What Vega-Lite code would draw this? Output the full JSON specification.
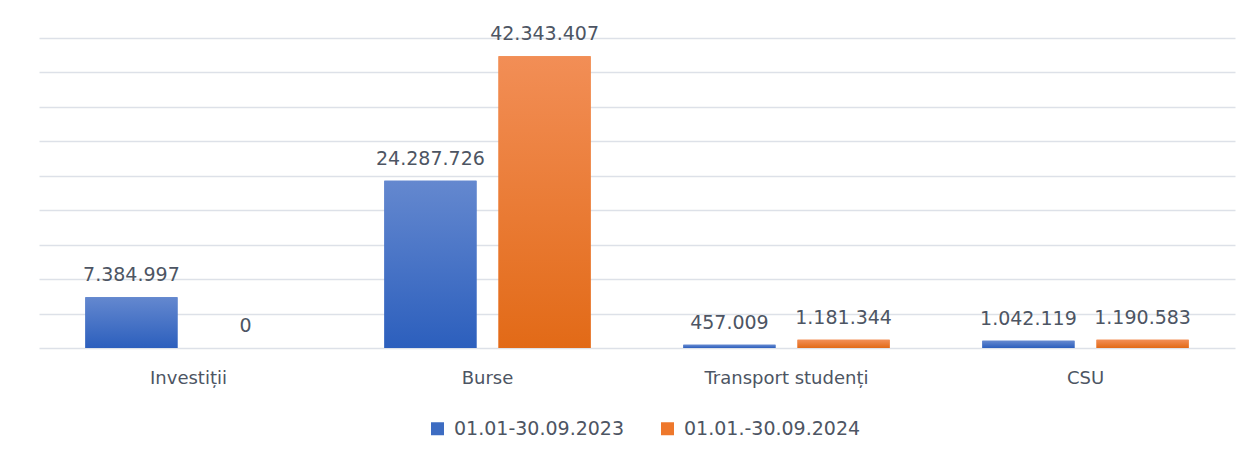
{
  "$schema": "https://vega.github.io/schema/vega-lite/v6.json",
  "autosize": {"type": "none"},
  "width": 1196,
  "height": 310,
  "padding": {"left": 39, "top": 38, "right": 18, "bottom": 109},
  "background": "white",
  "config": {
    "locale": {"number": {"decimal": ",", "thousands": ".", "grouping": [3], "currency": ["", ""]}},
    "view": {"stroke": null},
    "font": "DejaVu Sans"
  },
  "data": {
    "values": [
      {"cat": "Investiții", "per": "01.01-30.09.2023", "val": 7384997},
      {"cat": "Investiții", "per": "01.01.-30.09.2024", "val": 0},
      {"cat": "Burse", "per": "01.01-30.09.2023", "val": 24287726},
      {"cat": "Burse", "per": "01.01.-30.09.2024", "val": 42343407},
      {"cat": "Transport studenți", "per": "01.01-30.09.2023", "val": 457009},
      {"cat": "Transport studenți", "per": "01.01.-30.09.2024", "val": 1181344},
      {"cat": "CSU", "per": "01.01-30.09.2023", "val": 1042119},
      {"cat": "CSU", "per": "01.01.-30.09.2024", "val": 1190583}
    ]
  },
  "encoding": {
    "x": {
      "field": "cat", "type": "nominal", "sort": null,
      "scale": {"paddingInner": 0.31, "paddingOuter": 0.155},
      "axis": {"title": null, "ticks": false, "labelAngle": 0, "labelFontSize": 18, "labelColor": "#4d5563", "labelPadding": 21, "domainColor": "#dde1e8", "domainWidth": 1.5, "labelFont": "DejaVu Sans"}
    },
    "xOffset": {"field": "per", "type": "nominal", "scale": {"paddingInner": 0.193, "paddingOuter": 0}},
    "y": {
      "field": "val", "type": "quantitative",
      "scale": {"domain": [0, 45000000], "nice": false},
      "axis": {"title": null, "labels": false, "ticks": false, "domain": false, "values": [5000000, 10000000, 15000000, 20000000, 25000000, 30000000, 35000000, 40000000, 45000000], "gridColor": "#dde1e8", "gridWidth": 1.5}
    }
  },
  "layer": [
    {
      "mark": {"type": "bar"},
      "encoding": {
        "color": {
          "field": "per", "type": "nominal",
          "scale": {"domain": ["01.01-30.09.2023", "01.01.-30.09.2024"], "range": ["#3d6cc2", "#ee782c"]},
          "legend": {"title": null, "orient": "none", "legendX": 389, "legendY": 381, "direction": "horizontal", "symbolType": "square", "symbolSize": 169, "labelFontSize": 19, "labelColor": "#4d5563", "labelFont": "DejaVu Sans", "columnPadding": 33, "labelOffset": 7, "symbolStrokeWidth": 0, "labelLimit": 300}
        }
      }
    },
    {
      "transform": [{"filter": "datum.per === '01.01-30.09.2023'"}],
      "mark": {"type": "bar", "color": {"gradient": "linear", "x1": 0, "y1": 0, "x2": 0, "y2": 1, "stops": [{"offset": 0, "color": "#6488cf"}, {"offset": 1, "color": "#2c5fbd"}]}}
    },
    {
      "transform": [{"filter": "datum.per === '01.01.-30.09.2024'"}],
      "mark": {"type": "bar", "color": {"gradient": "linear", "x1": 0, "y1": 0, "x2": 0, "y2": 1, "stops": [{"offset": 0, "color": "#f28e56"}, {"offset": 1, "color": "#e26a17"}]}}
    },
    {
      "mark": {"type": "text", "baseline": "alphabetic", "dy": -16, "fontSize": 19, "color": "#4d5563", "font": "DejaVu Sans"},
      "encoding": {"text": {"field": "val", "type": "quantitative", "format": ",d"}}
    }
  ]
}
